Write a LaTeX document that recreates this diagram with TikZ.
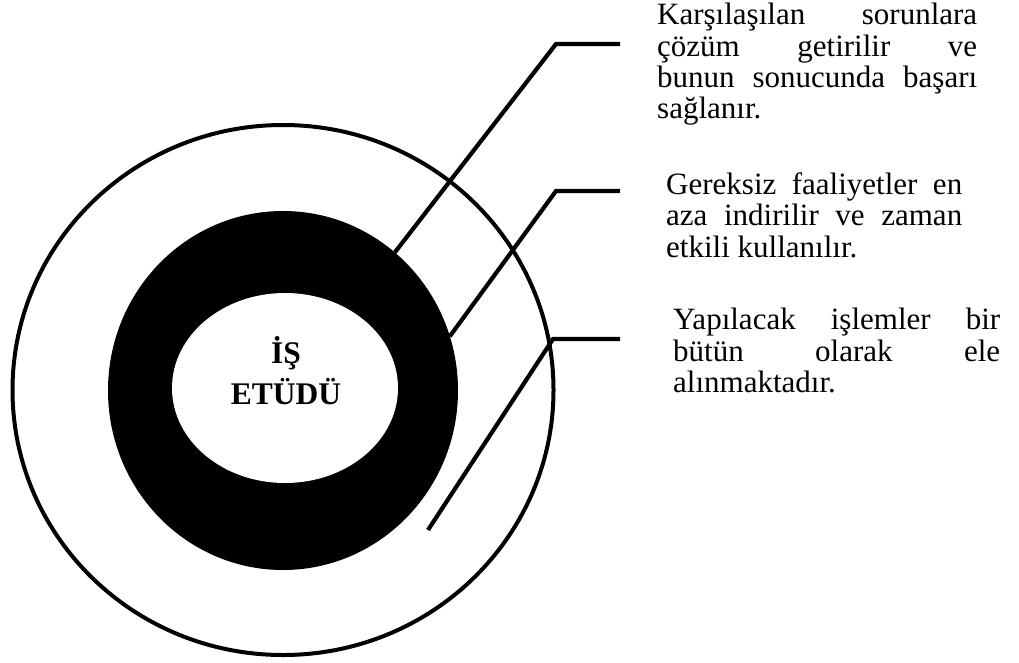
\documentclass[tikz,border=0pt]{standalone}
\usepackage{fontspec}
\setmainfont{Liberation Serif}
\usetikzlibrary{shapes.geometric}
\begin{document}
\begin{tikzpicture}[x=1pt,y=-1pt,
  ring/.style={ellipse, inner sep=0pt, outer sep=0pt},
  wire/.style={line width=4.2pt, line join=miter},
  note/.style={anchor=north west, inner sep=0pt, align=justify,
               font=\fontsize{31}{31.4}\selectfont},
  heading/.style={anchor=base, inner sep=0pt,
               font=\fontsize{31.5}{36}\selectfont\bfseries}]
\useasboundingbox (0,0) rectangle (1019,662);

% three concentric rings
\node[ring, draw, line width=4pt, minimum width=541pt, minimum height=530pt] (outer) at (283,390) {};
\node[ring, fill=black, minimum width=350pt, minimum height=359pt] (band) at (283,390.5) {};
\node[ring, fill=white, minimum width=226pt, minimum height=190pt] (core) at (285,388) {};

% centre title
\node[heading] (title1) at (286,363) {İŞ};
\node[heading] (title2) at (286,404) {ETÜDÜ};

% explanatory notes
\node[note, text width=320pt] (note1) at (657,3)
  {Karşılaşılan sorunlara\linebreak çözüm getirilir ve\linebreak bunun sonucunda başarı\linebreak sağlanır.};
\node[note, text width=296pt] (note2) at (666,172.5)
  {Gereksiz faaliyetler en\linebreak aza indirilir ve zaman\linebreak etkili kullanılır.};
\node[note, text width=327pt] (note3) at (673,308)
  {Yapılacak işlemler bir\linebreak bütün olarak ele\linebreak alınmaktadır.};

% leader lines
\coordinate (k1) at (556,44);  \coordinate (t1) at (620,44);
\coordinate (k2) at (556,191); \coordinate (t2) at (620,191);
\coordinate (k3) at (553,339); \coordinate (t3) at (620,339);
\coordinate (e3) at (428,530);

\draw[wire] (band.51.9) -- (k1) -- (t1);
\draw[wire] (band.18.4) -- (k2) -- (t2);
\draw[wire] (e3) -- (k3) -- (t3);
\end{tikzpicture}
\end{document}
